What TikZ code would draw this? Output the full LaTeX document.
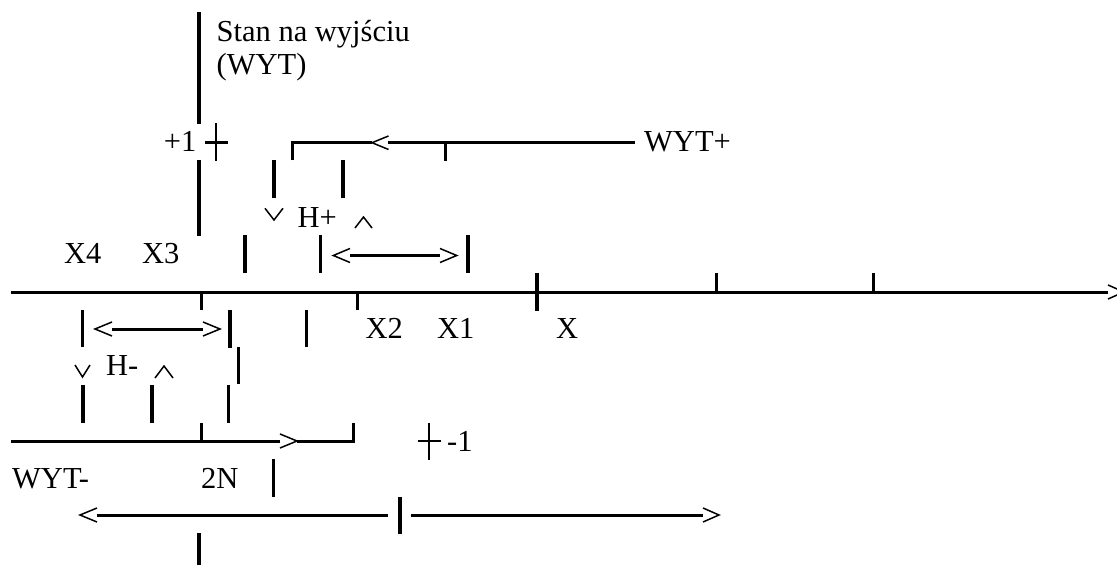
\documentclass[tikz,border=0pt]{standalone}
\usepackage{fontspec}
\setmainfont{Liberation Serif}
\begin{document}
\begin{tikzpicture}[x=1pt,y=-1pt,
  ln/.style={line width=3pt},
  barline/.style={line width=3.2pt},
  chev/.style={line width=1.5pt},
  crossline/.style={line width=2.8pt},
  lbl/.style={inner sep=0pt,anchor=base west,font=\fontsize{30.5}{36}\selectfont},
  lble/.style={inner sep=0pt,anchor=base east,font=\fontsize{30.5}{36}\selectfont}]
\useasboundingbox (0,0) rectangle (1117,567);

% ---- labels
\node[lbl] (stan) at (216.5,41.5) {Stan na wyjściu};
\node[lbl] (wyt) at (216.5,75) {(WYT)};
\node[lble] (plus1) at (196.5,152) {+1};
\node[lbl] (wytp) at (644,151.7) {WYT+};
\node[lbl] (hp) at (297.5,227) {H+};
\node[lbl] (x4) at (64,263) {X4};
\node[lbl] (x3) at (142,263) {X3};
\node[lbl] (x2) at (365.5,338.3) {X2};
\node[lbl] (x1) at (437,338.3) {X1};
\node[lbl] (x) at (556,338.3) {X};
\node[lbl] (hm) at (106,375) {H-};
\node[lbl] (m1) at (447,451) {-1};
\node[lbl] (wytm) at (12,488) {WYT-};
\node[lbl] (n2) at (201,488) {2N};

% ---- output axis (vertical)
\draw[barline] (199,12) -- (199,124);
\draw[barline] (199,160) -- (199,236);
\draw[crossline] (205,142.3) -- (228,142.3);
\draw[crossline] (216,123.3) -- (216,161);

% ---- WYT+ bracket
\draw[ln] (292.7,160.5) -- (292.7,142.7) -- (372,142.7);
\draw[ln] (388,142.7) -- (635,142.7);
\draw[chev] (388.5,136) -- (372,142.7) -- (388.5,149.5);
\draw[ln] (445,142.7) -- (445,160.7);
\draw[barline] (274,160) -- (274,198);
\draw[barline] (343,160) -- (343,198);
\draw[chev] (265,208.3) -- (274,220) -- (283,208.3);
\draw[chev] (355,228) -- (363.5,217) -- (372,228);

% ---- H+ width arrow
\draw[barline] (245,235) -- (245,273);
\draw[barline] (320.7,235) -- (320.7,273);
\draw[barline] (468,235) -- (468,273);
\draw[ln] (350,255.5) -- (440,255.5);
\draw[chev] (350,248.5) -- (333.3,255.5) -- (350,262.5);
\draw[chev] (440,248.5) -- (456.7,255.5) -- (440,262.5);

% ---- main input axis
\draw[ln] (11,292) -- (1108,292);
\draw[chev] (1108,285) -- (1124,292) -- (1108,299);
\draw[ln] (201,292) -- (201,310);
\draw[ln] (357.5,292) -- (357.5,310);
\draw[barline] (537,273) -- (537,311);
\draw[ln] (716.7,273) -- (716.7,292);
\draw[ln] (873.3,273) -- (873.3,292);

% ---- H- width arrow
\draw[barline] (82.7,310) -- (82.7,347);
\draw[barline] (230,310) -- (230,348);
\draw[barline] (306.7,310) -- (306.7,347);
\draw[ln] (112,329) -- (203,329);
\draw[chev] (112,322) -- (95,329) -- (112,336);
\draw[chev] (203,322) -- (220,329) -- (203,336);
\draw[barline] (238.3,347) -- (238.3,384);
\draw[chev] (75,365) -- (82.5,377) -- (90,365);
\draw[chev] (155,378) -- (164,366) -- (173,378);

% ---- WYT- bracket
\draw[barline] (83,385) -- (83,423);
\draw[barline] (152,385) -- (152,423);
\draw[barline] (228.3,385) -- (228.3,423);
\draw[ln] (11,441) -- (280,441);
\draw[chev] (280,434) -- (297,441) -- (280,448);
\draw[ln] (297,441) -- (353,441) -- (353,423);
\draw[ln] (201,441) -- (201,423);
\draw[crossline] (418,441) -- (441,441);
\draw[crossline] (429,423) -- (429,460);

% ---- 2N arrow
\draw[barline] (273.3,459) -- (273.3,497);
\draw[ln] (97,515) -- (388,515);
\draw[chev] (97,508) -- (80,515) -- (97,522);
\draw[barline] (400,497) -- (400,534);
\draw[ln] (411,515) -- (703,515);
\draw[chev] (703,508) -- (719,515) -- (703,522);
\draw[barline] (199,533) -- (199,565);
\end{tikzpicture}
\end{document}
